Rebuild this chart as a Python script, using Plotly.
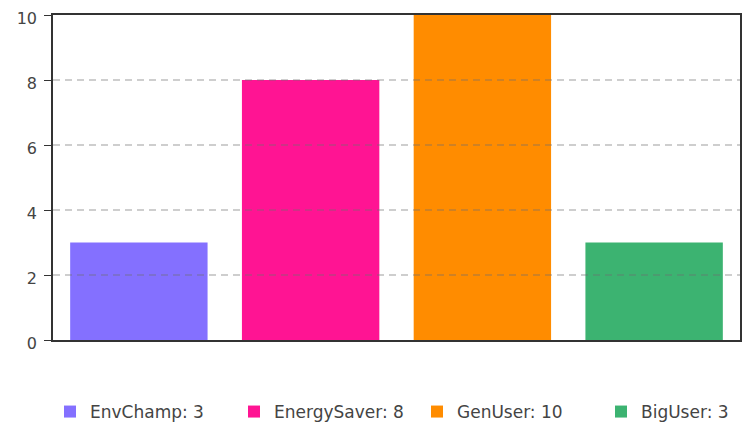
import plotly.graph_objects as go

categories = ["EnvChamp", "EnergySaver", "GenUser", "BigUser"]
values = [3, 8, 10, 3]
colors = ["#8470FF", "#FF1493", "#FF8C00", "#3CB371"]
y_ticks = [0, 2, 4, 6, 8, 10]

W, H = 742, 415
legend_ids = ["legend", "legend2", "legend3", "legend4"]
legend_left_px = [42, 226, 409, 593]

fig = go.Figure()
for cat, val, col, lid in zip(categories, values, colors, legend_ids):
    fig.add_trace(go.Bar(
        x=[cat], y=[val], name=f"{cat}: {val}",
        marker=dict(color=col, line=dict(width=0)),
        width=0.8, legend=lid,
    ))

for t in y_ticks[1:-1]:
    fig.add_shape(type="line", xref="paper", x0=0, x1=1, yref="y", y0=t, y1=t,
                  line=dict(color="rgba(110,110,110,0.45)", width=1.5, dash="7px,5px"),
                  layer="above")

legends = {}
for lid, lx in zip(legend_ids, legend_left_px):
    legends[lid] = dict(orientation="h", xref="container", x=lx / W, xanchor="left",
                        yref="container", y=11 / H, yanchor="middle",
                        font=dict(size=17, color="#444"), itemwidth=30,
                        bgcolor="rgba(0,0,0,0)")

fig.update_layout(
    width=W, height=H,
    margin=dict(l=45, r=10, t=7, b=83, autoexpand=False),
    paper_bgcolor="white", plot_bgcolor="white",
    barmode="overlay",
    font=dict(family="DejaVu Sans", size=16, color="#444"),
    showlegend=True,
    xaxis=dict(showticklabels=False, ticks="", showgrid=False, showline=True,
               linecolor="#333", linewidth=1.5, mirror=True, zeroline=False,
               categoryorder="array", categoryarray=categories, automargin=False),
    yaxis=dict(range=[0, 10], tickvals=y_ticks, ticks="outside", ticklen=7,
               tickcolor="#333", showgrid=False, showline=True, linecolor="#333",
               linewidth=1.5, mirror=True, zeroline=False, tickfont=dict(size=16),
               ticklabelstandoff=4, ticklabelshift=3, automargin=False,
               ticklabeloverflow="allow"),
    **legends,
)

fig.write_html("out.html")
